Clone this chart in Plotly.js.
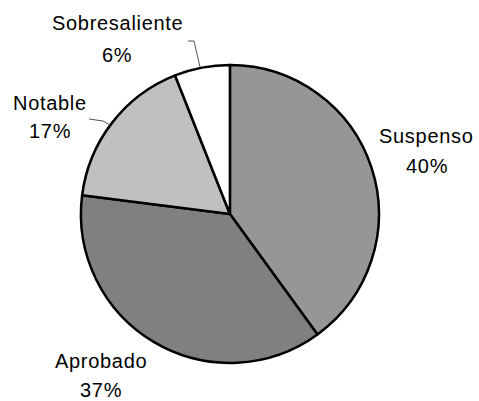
<!DOCTYPE html>
<html><head><meta charset="utf-8">
<script src="https://cdn.plot.ly/plotly-3.0.1.min.js"></script>
<style>html,body{margin:0;padding:0;background:#fff}#c{width:479px;height:401px}
.annotation-text{letter-spacing:0.7px}</style>
</head><body><div id="c"></div>
<script>
var categories = ["Suspenso", "Aprobado", "Notable", "Sobresaliente"];
var values = [40, 37, 17, 6];
var colors = ["#969696", "#808080", "#c0c0c0", "#ffffff"];

var W = 479, H = 401;
function px(x) { return x / W; }
function py(y) { return 1 - y / H; }

// label placement (pixel layout positions: [x, labelY, pctY])
var labelPos = [[426.5, 135.5, 166], [101, 360.5, 390], [50, 102.5, 130.5], [117, 23.5, 55]];
var fnt = {family: "Liberation Sans, Arial, sans-serif", size: 20, color: "#000"};
var annotations = [];
categories.forEach(function (c, i) {
  var p = labelPos[i];
  annotations.push({xref: "paper", yref: "paper", x: px(p[0]), y: py(p[1]), text: c,
    showarrow: false, xanchor: "center", yanchor: "middle", font: fnt});
  annotations.push({xref: "paper", yref: "paper", x: px(p[0]), y: py(p[2]), text: values[i] + "%",
    showarrow: false, xanchor: "center", yanchor: "middle", font: fnt});
});

function pathOf(pts) {
  return pts.map(function (q, k) { return (k ? "L" : "M") + px(q[0]) + "," + py(q[1]); }).join(" ");
}
var leaders = [
  [[188, 41], [194, 41], [200, 67]],
  [[89, 119], [103, 121], [110, 125]]
];
var shapes = leaders.map(function (l) {
  return {type: "path", xref: "paper", yref: "paper", path: pathOf(l), line: {color: "#555", width: 1}};
});

Plotly.newPlot("c", [{
  type: "pie",
  labels: categories,
  values: values,
  sort: false,
  direction: "clockwise",
  rotation: 0,
  marker: {colors: colors, line: {color: "#000", width: 2.5}},
  textinfo: "none",
  domain: {x: [0.169, 0.791], y: [0.095, 0.838]},
  hoverinfo: "none"
}], {
  width: W, height: H,
  margin: {l: 0, r: 0, t: 0, b: 0},
  showlegend: false,
  paper_bgcolor: "#fff",
  annotations: annotations,
  shapes: shapes
}, {staticPlot: true});
</script></body></html>
